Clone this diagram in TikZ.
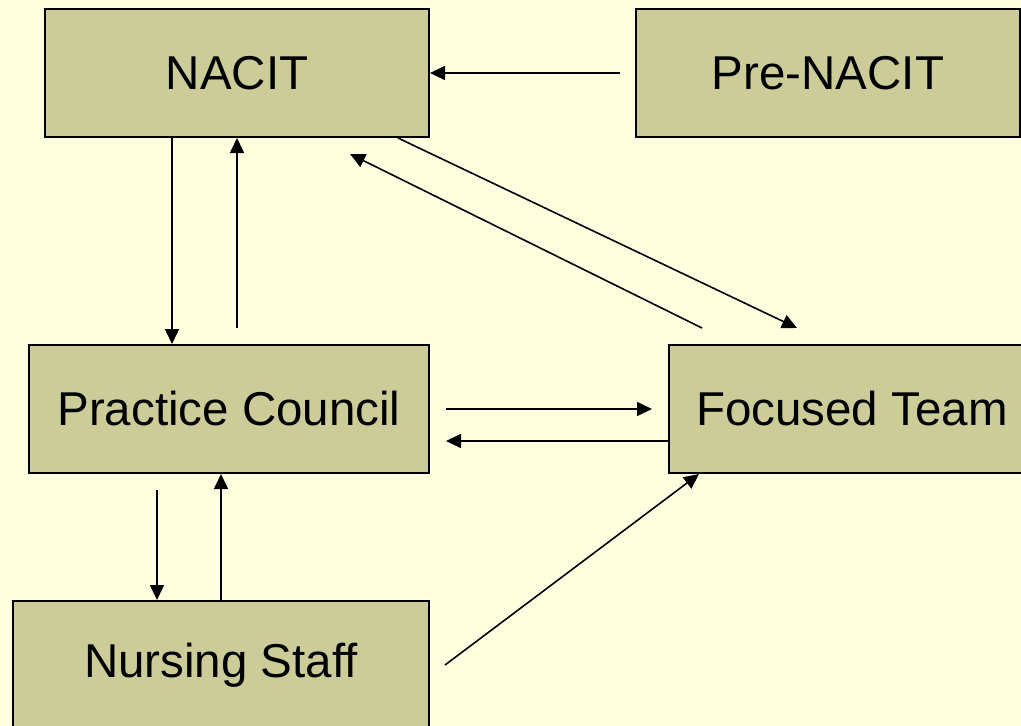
\documentclass[tikz,border=0pt]{standalone}
\usepackage{fontspec}
\setmainfont{Liberation Sans}
\usetikzlibrary{arrows.meta}
\definecolor{bgyellow}{RGB}{255,255,224}
\definecolor{boxfill}{RGB}{204,204,153}
\begin{document}
\begin{tikzpicture}[x=1pt,y=-1pt,
  box/.style={draw=black,line width=2pt,fill=boxfill,inner sep=0pt,
    font=\fontsize{47.5}{52}\selectfont,text=black},
  arr/.style={draw=black,line width=1.6pt,-{Triangle[length=15pt,width=14pt]}}]
\useasboundingbox (0,0) rectangle (1021,726);
\clip (0,0) rectangle (1021,726);
\fill[bgyellow] (0,0) rectangle (1021,726);
\node[box,minimum width=384pt,minimum height=128pt] (nacit) at (237,73) {NACIT};
\node[box,minimum width=384pt,minimum height=128pt] (pre) at (828,73) {Pre-NACIT};
\node[box,minimum width=400pt,minimum height=128pt] (pc) at (229,409) {Practice Council};
\node[box,minimum width=366pt,minimum height=128pt] (ft) at (852,409) {Focused Team};
\node[box,minimum width=416pt,minimum height=128pt] (ns) at (221,665) {Nursing Staff};
% connectors
\draw[arr] ([xshift=-15pt]pre.west) -- (nacit.east);
\draw[arr] ([xshift=-65pt]nacit.south) -- ([xshift=-57pt]pc.north);
\draw[arr] ([xshift=8pt,yshift=16pt]pc.north) -- (nacit.south);
\draw[arr] ([xshift=-32pt]nacit.south east) -- ([xshift=-55pt,yshift=16pt]ft.north);
\draw[arr] ([xshift=-150pt,yshift=16pt]ft.north) -- ([xshift=-80pt,yshift=-16pt]nacit.south east);
\draw[arr] ([xshift=16pt]pc.east) -- ([xshift=-16pt]ft.west);
\draw[arr] ([yshift=-32pt]ft.west) -- ([xshift=16pt,yshift=-32pt]pc.east);
\draw[arr] ([xshift=-72pt,yshift=-16pt]pc.south) -- ([xshift=-64pt]ns.north);
\draw[arr] (ns.north) -- ([xshift=-8pt]pc.south);
\draw[arr] ([xshift=15pt]ns.east) -- ([xshift=31pt]ft.south west);
\end{tikzpicture}
\end{document}
